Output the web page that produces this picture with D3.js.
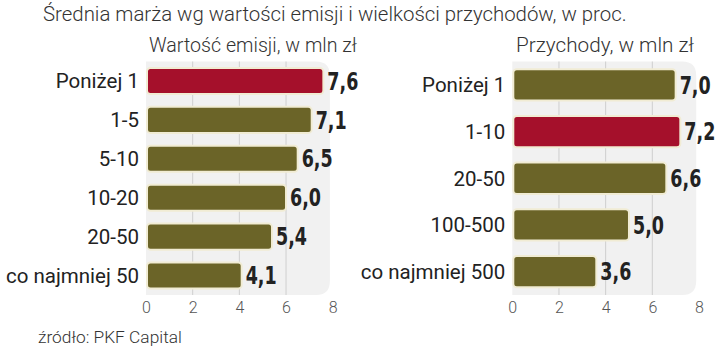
<!DOCTYPE html>
<html>
<head>
<meta charset="utf-8">
<script src="https://cdn.jsdelivr.net/npm/d3@7"></script>
<style>
  html, body { margin: 0; padding: 0; background: #ffffff; }
  svg { display: block; }
</style>
</head>
<body>
<svg id="chart" width="720" height="350"></svg>
<script>
// ---- data ----
const titleText = "Średnia marża wg wartości emisji i wielkości przychodów, w proc.";
const sourceText = "źródło: PKF Capital";

const emisjaTitle = "Wartość emisji, w mln zł";
const emisjaCategories = ["Poniżej 1", "1-5", "5-10", "10-20", "20-50", "co najmniej 50"];
const emisjaValues = [7.6, 7.1, 6.5, 6.0, 5.4, 4.1];
const emisjaHighlight = "Poniżej 1";

const przychodyTitle = "Przychody, w mln zł";
const przychodyCategories = ["Poniżej 1", "1-10", "20-50", "100-500", "co najmniej 500"];
const przychodyValues = [7.0, 7.2, 6.6, 5.0, 3.6];
const przychodyHighlight = "1-10";

const tickValues = [0, 2, 4, 6, 8];
const gridValues = [2, 4, 6];

// ---- styles ----
const OLIVE = "#6b6428";
const RED = "#a5102b";
const lightFont = "Roboto, 'Liberation Sans', sans-serif";
const valueFont = "'DejaVu Sans', sans-serif";
const fmt = v => d3.format(".1f")(v).replace(".", ",");

const svg = d3.select("#chart");

// horizontally fit a text (anchored at x,y) to the given width
function squeeze(sel, width) {
  sel.each(function() {
    const t = d3.select(this);
    const x = +t.attr("x"), y = +t.attr("y");
    const w = this.getComputedTextLength();
    const s = width / w;
    t.attr("x", 0).attr("y", 0)
     .attr("transform", `translate(${x},${y}) scale(${s},1)`);
  });
}

svg.append("text")
  .attr("x", 43).attr("y", 21)
  .attr("font-family", lightFont).attr("font-weight", 300)
  .attr("font-size", 20.5).attr("fill", "#333")
  .text(titleText)
  .call(squeeze, 584);

svg.append("text")
  .attr("x", 38).attr("y", 343)
  .attr("font-family", lightFont).attr("font-weight", 300)
  .attr("font-size", 16).attr("fill", "#333")
  .text(sourceText)
  .call(squeeze, 144);

const yRange = [61.5, 295];

function drawPanel(cfg) {
  const g = svg.append("g");
  const x = d3.scaleLinear().domain([0, 8]).range([cfg.x0, cfg.x1]);
  const y = d3.scaleBand().domain(cfg.categories).range(yRange)
    .paddingInner(0.33).paddingOuter(0.165);

  // subtitle
  g.append("text")
    .attr("x", cfg.subX).attr("y", 52)
    .attr("font-family", lightFont).attr("font-weight", 300)
    .attr("font-size", 21).attr("fill", "#333")
    .text(cfg.title)
    .call(squeeze, cfg.subW);

  // background panel with rounded right corners
  const bx0 = x(0), bx1 = x(7.88), by0 = yRange[0], by1 = yRange[1], r = 14;
  g.append("path")
    .attr("d", `M${bx0},${by0} H${bx1 - r} Q${bx1},${by0} ${bx1},${by0 + r} V${by1 - r} Q${bx1},${by1} ${bx1 - r},${by1} H${bx0} Z`)
    .attr("fill", "#f1f1f1");

  // grid lines
  g.selectAll("line.grid").data(gridValues).join("line")
    .attr("class", "grid")
    .attr("x1", d => x(d)).attr("x2", d => x(d))
    .attr("y1", by0).attr("y2", by1)
    .attr("stroke", "#cfcfcf").attr("stroke-width", 1);

  const data = cfg.categories.map((c, i) => ({ c, v: cfg.values[i] }));

  // bars
  g.selectAll("rect.bar").data(data).join("rect")
    .attr("class", "bar")
    .attr("x", x(0) + 1)
    .attr("y", d => y(d.c))
    .attr("width", d => x(d.v) - x(0) - 1)
    .attr("height", y.bandwidth())
    .attr("rx", 3.5).attr("ry", 3.5)
    .attr("fill", d => d.c === cfg.highlight ? RED : OLIVE)
    .attr("stroke", "#f1ecd4").attr("stroke-width", 2);

  // category labels
  g.selectAll("text.cat").data(data).join("text")
    .attr("class", "cat")
    .attr("x", x(0) - 7)
    .attr("y", d => y(d.c) + y.bandwidth() / 2)
    .attr("dy", "0.36em")
    .attr("text-anchor", "end")
    .attr("font-family", "Roboto, sans-serif")
    .attr("font-size", 20.5).attr("fill", "#222")
    .text(d => d.c);

  // value labels
  g.selectAll("text.val").data(data).join("text")
    .attr("class", "val")
    .attr("x", d => x(d.v) + 4)
    .attr("y", d => y(d.c) + y.bandwidth() / 2)
    .attr("dy", "0.36em")
    .attr("font-family", valueFont).attr("font-weight", 700)
    .attr("font-stretch", "condensed")
    .attr("font-size", 24).attr("fill", "#222")
    .text(d => fmt(d.v))
    .call(squeeze, 31);

  // axis
  const axis = d3.axisBottom(x).tickValues(tickValues).tickSize(0).tickPadding(0)
    .tickFormat(d3.format("d"));
  const ag = g.append("g").attr("transform", `translate(0,${by1 + 7})`).call(axis);
  ag.select(".domain").remove();
  ag.selectAll("text")
    .attr("font-family", lightFont).attr("font-weight", 300)
    .attr("font-size", 16).attr("fill", "#555")
    .attr("dy", "0.71em");
}

drawPanel({
  title: emisjaTitle, categories: emisjaCategories, values: emisjaValues,
  highlight: emisjaHighlight, x0: 146, x1: 332.7, subX: 149, subW: 208
});
drawPanel({
  title: przychodyTitle, categories: przychodyCategories, values: przychodyValues,
  highlight: przychodyHighlight, x0: 512.3, x1: 699, subX: 516, subW: 178
});
</script>
</body>
</html>
